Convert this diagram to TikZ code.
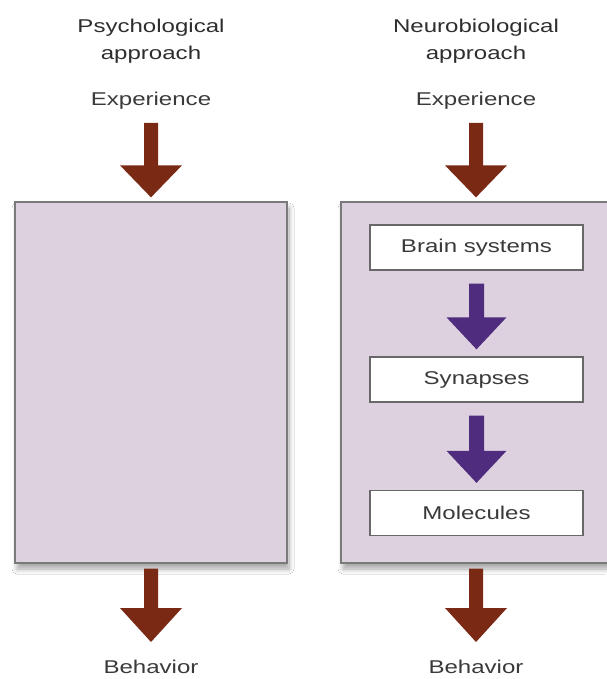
\documentclass[tikz,border=0pt]{standalone}
\usepackage{fontspec}
\setmainfont{Liberation Sans}[FakeStretch=1.3]
\usetikzlibrary{calc,shadows.blur}
\definecolor{boxfill}{HTML}{DDD1E0}
\definecolor{boxline}{HTML}{7A7A7A}
\definecolor{brownarr}{HTML}{7A2914}
\definecolor{purparr}{HTML}{4F2C7E}
\definecolor{txt}{HTML}{3A3A3A}
\definecolor{ttl}{HTML}{2E2E2E}
\newcommand\bigarrow[6]{%
  \fill[#3] let \p1=#1, \p2=#2 in
   (\x1-#4pt,\y1) -- (\x1+#4pt,\y1) -- (\x1+#4pt,\y2+#6pt) -- (\x1+#5pt,\y2+#6pt)
   -- (\x1,\y2) -- (\x1-#5pt,\y2+#6pt) -- (\x1-#4pt,\y2+#6pt) -- cycle;}
\tikzset{
  lbl/.style={text=txt, font=\fontsize{18.5}{27}\selectfont, inner sep=0pt, align=center},
  ttlbl/.style={lbl, text=ttl},
  bigbox/.style={draw=boxline, line width=1.3pt, fill=boxfill, inner sep=0pt,
     blur shadow={shadow xshift=2pt, shadow yshift=-6pt, shadow blur steps=8, shadow blur radius=5pt, shadow opacity=35}},
  inbox/.style={draw=boxline!85!black, line width=1.3pt, fill=white, inner sep=0pt,
     minimum width=213pt, minimum height=45pt, text=txt, font=\fontsize{18.5}{22}\selectfont},
}
\begin{document}
\begin{tikzpicture}[x=1pt,y=-1pt]
\useasboundingbox (0,0) rectangle (606,679);
\fill[white] (0,0) rectangle (606,679);
% titles
\node[ttlbl] (t1) at (151,41) {Psychological\\approach};
\node[ttlbl] (t2) at (476,41) {Neurobiological\\approach};
\node[lbl] (e1) at (151,101) {Experience};
\node[lbl] (e2) at (476,101) {Experience};
% big boxes
\node[bigbox, minimum width=272pt, minimum height=361pt] (b1) at (151,382.5) {};
\node[bigbox, minimum width=270pt, minimum height=361pt] (b2) at (476,382.5) {};
% inner boxes
\node[inbox] (bs) at (476.5,247.5) {Brain systems};
\node[inbox] (sy) at (476.5,379.5) {Synapses};
\node[inbox] (mo) at (476.5,513) {Molecules};
% behavior
\node[lbl] (h1) at (151,667) {Behavior};
\node[lbl] (h2) at (476,667) {Behavior};
% arrows
\bigarrow{($(e1.center)+(0,22)$)}{($(b1.north)+(0,-4)$)}{brownarr}{7}{31}{32}
\bigarrow{($(e2.center)+(0,22)$)}{($(b2.north)+(0,-4)$)}{brownarr}{7}{31}{32}
\bigarrow{($(b1.south)+(0,5)$)}{($(h1.north)+(0,-18)$)}{brownarr}{7}{31}{34}
\bigarrow{($(b2.south)+(0,5)$)}{($(h2.north)+(0,-18)$)}{brownarr}{7}{31}{34}
\bigarrow{($(bs.south)+(0,13)$)}{($(sy.north)+(0,-7)$)}{purparr}{7.5}{30}{32}
\bigarrow{($(sy.south)+(0,13)$)}{($(mo.north)+(0,-7)$)}{purparr}{7.5}{30}{32}
\end{tikzpicture}
\end{document}
